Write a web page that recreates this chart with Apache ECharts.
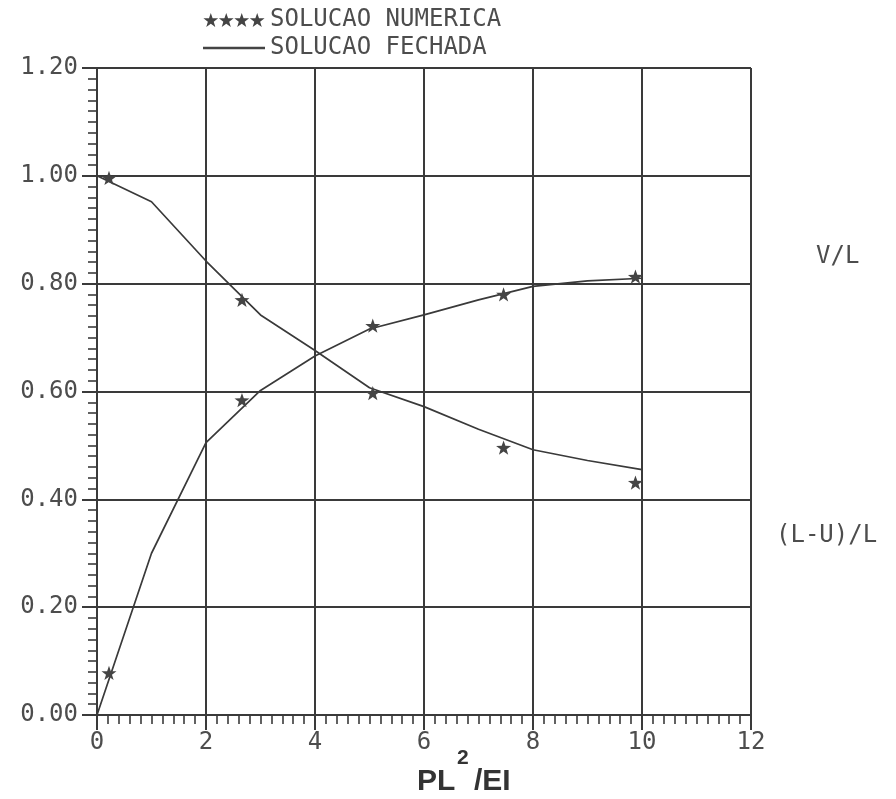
<!DOCTYPE html>
<html>
<head>
<meta charset="utf-8">
<script src="https://cdn.jsdelivr.net/npm/echarts@6/dist/echarts.min.js"></script>
<style>
  html, body { margin: 0; padding: 0; background: #ffffff; }
  #chart { width: 896px; height: 799px; }
</style>
</head>
<body>
<div id="chart"></div>
<script>
// Load parameter PL^2/EI where the numerical solution was evaluated
const numX = [0.22, 2.66, 5.06, 7.46, 9.88];
// Numerical solution (stars)
const numVL = [0.078, 0.584, 0.722, 0.780, 0.813];
const numLUL = [0.996, 0.770, 0.597, 0.496, 0.431];

// Closed-form solution (solid lines)
const closedX = [0, 1, 2, 3, 4, 5, 6, 7, 8, 9, 10];
const closedVL = [0.0, 0.30, 0.505, 0.602, 0.666, 0.716, 0.742, 0.770, 0.795, 0.805, 0.810];
const closedLUL = [1.0, 0.952, 0.842, 0.742, 0.676, 0.607, 0.572, 0.530, 0.492, 0.472, 0.455];

// Axis ticks
const xTicks = { min: 0, max: 12, step: 2 };
const yTicks = { min: 0, max: 1.2, step: 0.2 };

const legendNames = ['SOLUCAO NUMERICA', 'SOLUCAO FECHADA'];
const curveNames = ['V/L', '(L-U)/L'];

const pair = (xs, ys) => xs.map((x, i) => [x, ys[i]]);

const INK = '#3a3a3a';
const TEXT = '#4d4d4d';
const MONO = '"DejaVu Sans Mono", "Liberation Mono", monospace';

const star = 'path://M50,0L61.8,33.8L97.6,34.5L69,56.2L79.4,90.5L50,70L20.6,90.5L31,56.2L2.4,34.5L38.2,33.8Z';
const starRow = (() => {
  const pts = [[50,0],[61.8,33.8],[97.6,34.5],[69,56.2],[79.4,90.5],[50,70],[20.6,90.5],[31,56.2],[2.4,34.5],[38.2,33.8]];
  let d = '';
  for (let k = 0; k < 4; k++) {
    d += 'M' + pts.map(p => (p[0] + k * 100).toFixed(1) + ',' + p[1]).join('L') + 'Z';
  }
  return 'path://' + d;
})();
const lineIcon = 'path://M0,0h100v4h-100z';

const chart = echarts.init(document.getElementById('chart'), null, { renderer: 'canvas' });

const axisCommon = {
  axisLine: { show: true, lineStyle: { color: INK, width: 2 } },
  axisTick: { show: true, inside: false, length: 15, lineStyle: { color: INK, width: 2 } },
  minorTick: { show: true, splitNumber: 10, length: 9, lineStyle: { color: INK, width: 1.6 } },
  splitLine: { show: true, lineStyle: { color: INK, width: 2 } },
  axisLabel: { color: TEXT, fontFamily: MONO, fontSize: 24 }
};

chart.setOption({
  backgroundColor: '#ffffff',
  animation: false,
  grid: { left: 97, right: 145, top: 68, bottom: 84, containLabel: false },
  legend: {
    orient: 'vertical',
    left: 203,
    top: 8,
    padding: 0,
    itemGap: 4,
    itemWidth: 62,
    itemHeight: 14,
    selectedMode: false,
    textStyle: { color: TEXT, fontFamily: MONO, fontSize: 24, lineHeight: 23 },
    data: [
      { name: legendNames[0], icon: starRow, itemStyle: { color: '#444' } },
      { name: legendNames[1], icon: lineIcon, itemStyle: { color: '#444' } }
    ]
  },
  xAxis: Object.assign({}, axisCommon, {
    type: 'value',
    min: xTicks.min, max: xTicks.max, interval: xTicks.step,
    axisLabel: Object.assign({}, axisCommon.axisLabel, { margin: 16 })
  }),
  yAxis: Object.assign({}, axisCommon, {
    type: 'value',
    min: yTicks.min, max: yTicks.max, interval: yTicks.step,
    axisLabel: Object.assign({}, axisCommon.axisLabel, {
      margin: 19,
      formatter: v => v.toFixed(2)
    })
  }),
  series: [
    {
      name: legendNames[1], type: 'line', data: pair(closedX, closedVL),
      symbol: 'none', smooth: false,
      lineStyle: { color: '#3a3a3a', width: 1.7 }, itemStyle: { color: '#3a3a3a' }, z: 3
    },
    {
      name: legendNames[1], type: 'line', data: pair(closedX, closedLUL),
      symbol: 'none', smooth: false,
      lineStyle: { color: '#3a3a3a', width: 1.7 }, itemStyle: { color: '#3a3a3a' }, z: 3
    },
    {
      name: legendNames[0], type: 'scatter', data: pair(numX, numVL),
      symbol: star, symbolSize: 15, symbolKeepAspect: true,
      itemStyle: { color: '#444', opacity: 1 }, z: 4
    },
    {
      name: legendNames[0], type: 'scatter', data: pair(numX, numLUL),
      symbol: star, symbolSize: 15, symbolKeepAspect: true,
      itemStyle: { color: '#444', opacity: 1 }, z: 4
    }
  ],
  graphic: [
    { type: 'text', left: 816, top: 245, style: { text: curveNames[0], fill: TEXT, font: '24px ' + MONO } },
    { type: 'text', left: 776, top: 524, style: { text: curveNames[1], fill: TEXT, font: '24px ' + MONO } },
    { type: 'text', x: 417, y: 782, style: { text: 'PL', fill: '#333', font: 'bold 30px "Liberation Sans", Arial, sans-serif', verticalAlign: 'middle' } },
    { type: 'text', x: 457, y: 758, style: { text: '2', fill: '#333', font: 'bold 21px "Liberation Sans", Arial, sans-serif', verticalAlign: 'middle' } },
    { type: 'text', x: 474, y: 782, style: { text: '/EI', fill: '#333', font: 'bold 30px "Liberation Sans", Arial, sans-serif', verticalAlign: 'middle' } }
  ]
});
</script>
</body>
</html>
